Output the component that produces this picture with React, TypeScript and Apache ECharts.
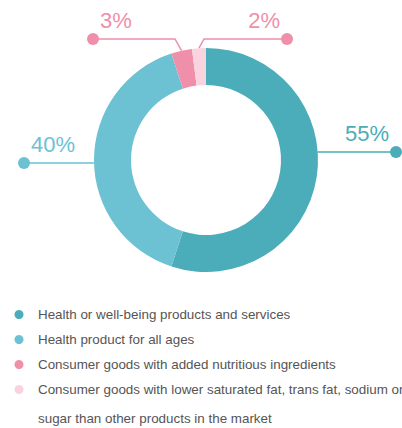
import { useEffect, useRef } from "react";
import * as echarts from "echarts";

const categories = [
  "Health or well-being products and services",
  "Health product for all ages",
  "Consumer goods with added nutritious ingredients",
  "Consumer goods with lower saturated fat, trans fat, sodium or sugar than other products in the market",
];
const values = [55, 40, 3, 2];
const sliceColors = ["#4AADB9", "#6CC1D3", "#EF8FAA", "#F9D3DD"];
const labelColors = ["#4AADB9", "#6CC1D3", "#EF8FAA", "#EF8FAA"];

const FONT = "'Liberation Sans', Arial, Helvetica, sans-serif";
const CX = 206;
const CY = 160;
const R0 = 75;
const R1 = 112;
const DOT = 12;
const GAP = 13;
const LEGEND_FONT = 13.4;

// where each label's dot sits, and whether the line bends
const labelSpots: { side: "left" | "right"; dotX: number; dotY: number; elbowX?: number }[] = [
  { side: "right", dotX: 396, dotY: 152 },
  { side: "left", dotX: 24, dotY: 163 },
  { side: "left", dotX: 93, dotY: 39, elbowX: 175 },
  { side: "right", dotX: 287, dotY: 39, elbowX: 204 },
];

const LEGEND_WRAP = 61;
function wrap(name: string): string[] {
  if (name.length <= LEGEND_WRAP) return [name];
  const cut = name.lastIndexOf(" ", LEGEND_WRAP);
  return [name.slice(0, cut), name.slice(cut + 1)];
}

export default function App() {
  const ref = useRef<HTMLDivElement>(null);
  useEffect(() => {
    if (!ref.current) return;
    const chart = echarts.init(ref.current, undefined, { renderer: "svg" });
    const total = values.reduce((a, b) => a + b, 0);
    const mids: number[] = [];
    let cum = 0;
    values.forEach((v) => {
      mids.push(((cum + v / 2) / total) * Math.PI * 2);
      cum += v;
    });

    const rich: Record<string, any> = { s: { width: GAP, height: 1 } };
    values.forEach((_, i) => {
      rich["t" + i] = { fontSize: 22, color: labelColors[i], fontFamily: FONT, lineHeight: 25 };
      rich["d" + i] = {
        width: DOT,
        height: DOT,
        lineHeight: DOT,
        borderRadius: DOT / 2,
        backgroundColor: labelColors[i],
        align: labelSpots[i].side === "right" ? "right" : "left",
      };
    });

    const lines = wrap(categories[3]);

    chart.setOption({
      animation: false,
      legend: {
        orient: "vertical",
        left: 9.5,
        top: 297,
        itemWidth: 28,
        itemHeight: 9,
        itemGap: 0,
        icon: "circle",
        selectedMode: false,
        textStyle: { fontSize: LEGEND_FONT, color: "#555", lineHeight: 25, fontFamily: FONT },
        formatter: (name: string) => wrap(name)[0],
        data: categories,
      },
      graphic: lines.length > 1
        ? [
            {
              type: "text",
              style: {
                x: 38,
                y: 418,
                text: lines[1],
                fill: "#555",
                font: `${LEGEND_FONT}px ${FONT}`,
                verticalAlign: "middle",
              },
            },
          ]
        : [],
      series: [
        {
          type: "pie",
          center: [CX, CY],
          radius: [R0, R1],
          startAngle: 90,
          clockwise: true,
          avoidLabelOverlap: false,
          label: {
            show: true,
            position: "outside",
            rich,
            formatter: (p: any) => {
              const i = p.dataIndex;
              return labelSpots[i].side === "right"
                ? `{t${i}|${p.value}%}{s|}\n{d${i}|}`
                : `{s|}{t${i}|${p.value}%}\n{d${i}|}`;
            },
          },
          labelLine: { show: true, length: 10, length2: 10, lineStyle: { width: 1.5 } },
          labelLayout: (p: any) => {
            const i = p.dataIndex;
            const s = labelSpots[i];
            let start: number[];
            if (s.elbowX == null) {
              const dy = s.dotY - CY;
              const dx = Math.sqrt(R1 * R1 - dy * dy);
              start = [s.side === "right" ? CX + dx : CX - dx, s.dotY];
            } else {
              start = [CX + R1 * Math.sin(mids[i]), CY - R1 * Math.cos(mids[i])];
            }
            const pts = s.elbowX == null ? [start, [s.dotX, s.dotY]] : [start, [s.elbowX, s.dotY], [s.dotX, s.dotY]];
            return {
              x: s.side === "right" ? s.dotX + DOT / 2 : s.dotX - DOT / 2,
              y: s.dotY - 25 - DOT / 2,
              align: s.side,
              verticalAlign: "top",
              labelLinePoints: pts,
            };
          },
          emphasis: { disabled: true },
          data: categories.map((name, i) => ({
            name,
            value: values[i],
            itemStyle: { color: sliceColors[i] },
            labelLine: { lineStyle: { color: labelColors[i], width: 1.5 } },
          })),
        },
      ],
    });
    return () => chart.dispose();
  }, []);
  return (
    <div
      ref={ref}
      style={{ position: "fixed", left: 0, top: 0, width: 402, height: 428, background: "#fff" }}
    />
  );
}
